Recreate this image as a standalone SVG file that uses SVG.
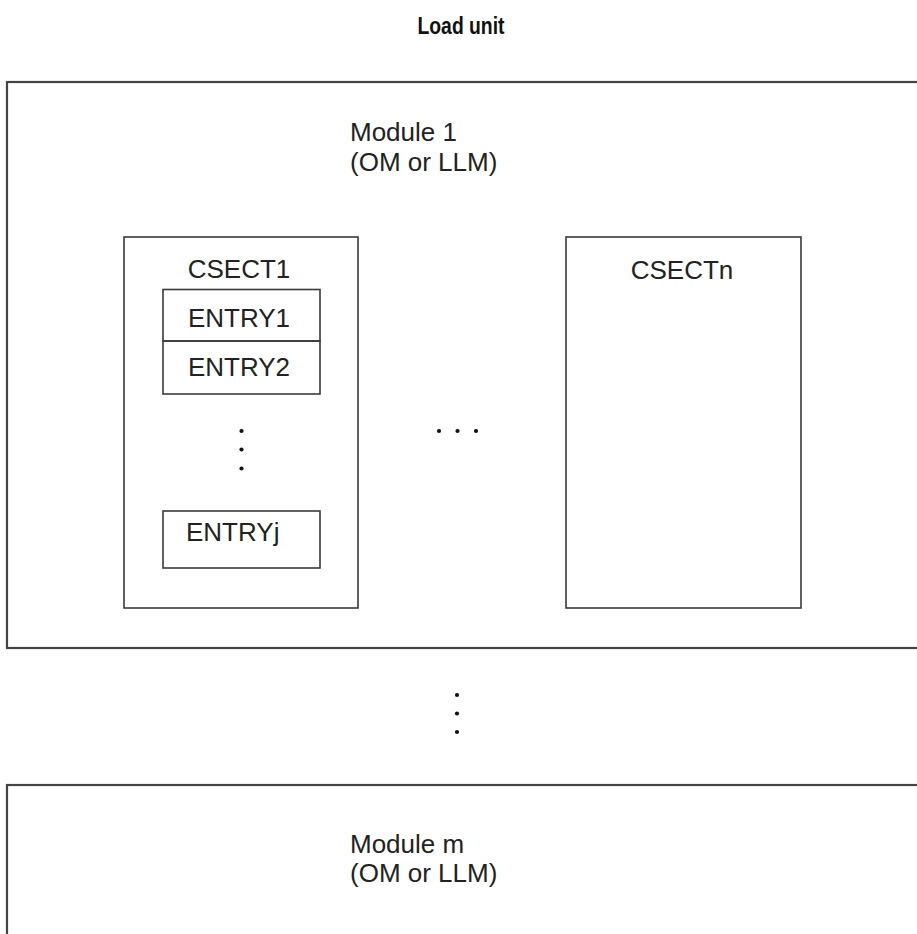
<svg xmlns="http://www.w3.org/2000/svg" width="917" height="934" viewBox="0 0 917 934">
  <style>
    .box { fill: none; stroke: #3a3a3a; stroke-width: 1.6; }
    .mod { fill: none; stroke: #444; stroke-width: 2.2; }
    .t { font-family: "Liberation Sans", Arial, sans-serif; font-size: 26px; fill: #222; }
    .c { text-anchor: middle; }
    .title { font-family: "Liberation Sans", Arial, sans-serif; font-size: 23px; font-weight: bold; fill: #111; text-anchor: middle; }
    .dot { fill: #111; }
  </style>
  <rect width="917" height="934" fill="#fff"/>
  <text class="title" x="461" y="34" textLength="87" lengthAdjust="spacingAndGlyphs">Load unit</text>

  <g id="module1">
    <rect class="mod" x="7" y="82" width="930" height="566"/>
    <text class="t" x="350" y="141">Module 1</text>
    <text class="t" x="350" y="171">(OM or LLM)</text>
  </g>

  <g id="csect1">
    <rect class="box" x="124" y="237" width="234" height="371"/>
    <text class="t c" x="239" y="278">CSECT1</text>
  </g>
  <g id="entry1">
    <rect class="box" x="163" y="289.5" width="157" height="51.5"/>
    <text class="t c" x="239" y="327">ENTRY1</text>
  </g>
  <g id="entry2">
    <rect class="box" x="163" y="341" width="157" height="53"/>
    <text class="t c" x="239" y="376">ENTRY2</text>
  </g>
  <g id="entryj">
    <rect class="box" x="163" y="511" width="157" height="57"/>
    <text class="t" x="186" y="541">ENTRYj</text>
  </g>
  <g id="csectn">
    <rect class="box" x="566" y="237" width="235" height="371"/>
    <text class="t c" x="682" y="279">CSECTn</text>
  </g>

  <g id="module-m">
    <rect class="mod" x="7" y="785" width="930" height="200"/>
    <text class="t" x="350" y="853">Module m</text>
    <text class="t" x="350" y="882">(OM or LLM)</text>
  </g>

  <g id="ellipses">
    <circle class="dot" cx="241.5" cy="431" r="2.1"/>
    <circle class="dot" cx="241.5" cy="449.5" r="2.1"/>
    <circle class="dot" cx="241.5" cy="468.5" r="2.1"/>
    <circle class="dot" cx="439" cy="431" r="2.1"/>
    <circle class="dot" cx="457.5" cy="431" r="2.1"/>
    <circle class="dot" cx="476" cy="431" r="2.1"/>
    <circle class="dot" cx="457" cy="695" r="2.1"/>
    <circle class="dot" cx="457" cy="713.5" r="2.1"/>
    <circle class="dot" cx="457" cy="732" r="2.1"/>
  </g>

  <g id="connectors"></g>
</svg>
